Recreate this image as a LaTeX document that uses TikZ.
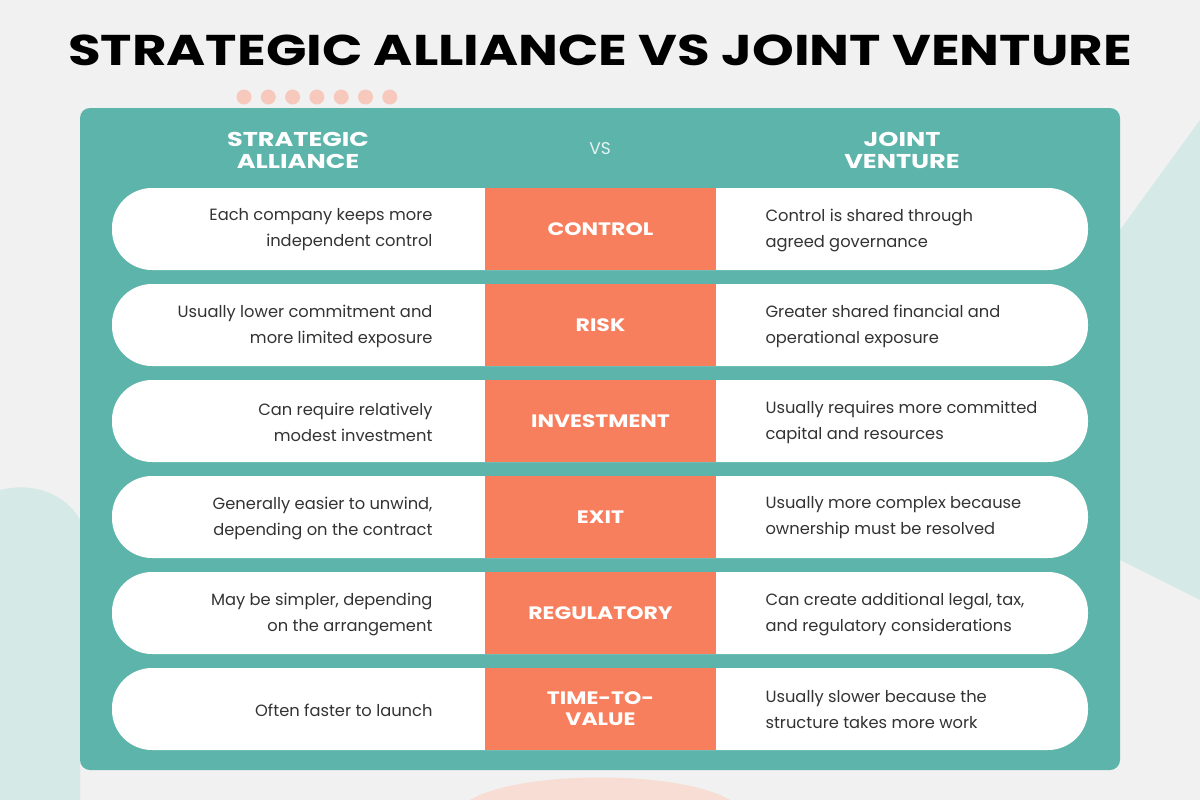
\documentclass[tikz,border=0pt]{standalone}
\usepackage{fontspec}
\setmainfont{Poppins}
\begin{document}
\begin{tikzpicture}[x=1pt,y=-1pt,
  pill/.style={fill=white,rounded corners=40pt},
  mid/.style={fill=orng,minimum width=231pt,minimum height=82pt,inner sep=0pt},
  midt/.style={text=white,font=\bfseries\fontsize{18}{21}\selectfont,align=center,xscale=1.22},
  lt/.style={anchor=east,align=right,text=txt,font=\fontsize{16.3}{26}\selectfont},
  rt/.style={anchor=west,align=left,text=txt,font=\fontsize{16.3}{26}\selectfont},
  hd/.style={text=white,font=\bfseries\fontsize{20}{22}\selectfont,align=center,xscale=1.28}]
\definecolor{bg}{HTML}{F1F1F1}
\definecolor{teal}{HTML}{5CB4AA}
\definecolor{orng}{HTML}{F77F5D}
\definecolor{txt}{HTML}{333333}
\definecolor{pteal}{HTML}{D5E9E6}
\definecolor{ppeach}{HTML}{F7DDD3}
\definecolor{dot}{HTML}{F7C9BC}
\useasboundingbox (0,0) rectangle (1200,800);
\fill[bg] (0,0) rectangle (1200,800);
\fill[pteal] (1200,120) -- (1120,230) -- (1120,560) -- (1200,600) -- cycle;
\fill[pteal] (0,490) .. controls (40,480) and (70,500) .. (80,520) -- (80,800) -- (0,800) -- cycle;
\fill[ppeach] (470,800) .. controls (520,770) and (680,770) .. (730,800) -- cycle;
\foreach \i in {0,...,6} \fill[dot] (244+\i*24.3,97) circle (7.5);
\node[font=\bfseries\fontsize{43}{46}\selectfont,xscale=1.235] (title) at (600,50) {STRATEGIC ALLIANCE VS JOINT VENTURE};
\fill[teal,rounded corners=10pt] (80,108) rectangle (1120,770);
\node[hd] (h1) at (298,150) {STRATEGIC\\ALLIANCE};
\node[text=white!85!teal,font=\fontsize{17}{20}\selectfont] (vs) at (600,149) {VS};
\node[hd] (h2) at (902,150) {JOINT\\VENTURE};
\foreach \r/\c/\l/\t in {
 0/CONTROL/{Each company keeps more\\independent control}/{Control is shared through\\agreed governance},
 1/RISK/{Usually lower commitment and\\more limited exposure}/{Greater shared financial and\\operational exposure},
 2/INVESTMENT/{Can require relatively\\modest investment}/{Usually requires more committed\\capital and resources},
 3/EXIT/{Generally easier to unwind,\\depending on the contract}/{Usually more complex because\\ownership must be resolved},
 4/REGULATORY/{May be simpler, depending\\on the arrangement}/{Can create additional legal, tax,\\and regulatory considerations},
 5/{TIME-TO-\\VALUE}/{Often faster to launch}/{Usually slower because the\\structure takes more work}}{
 \pgfmathsetmacro\y{229+\r*96}
 \fill[pill] (112,\y-41) rectangle (1088,\y+41);
 \node[mid] (m\r) at (600.5,\y) {};
 \node[midt] (c\r) at (600.5,\y) {\c};
 \node[lt] (l\r) at (436,\y+1) {\l};
 \node[rt] (r\r) at (762,\y+1) {\t};
}
\end{tikzpicture}
\end{document}
